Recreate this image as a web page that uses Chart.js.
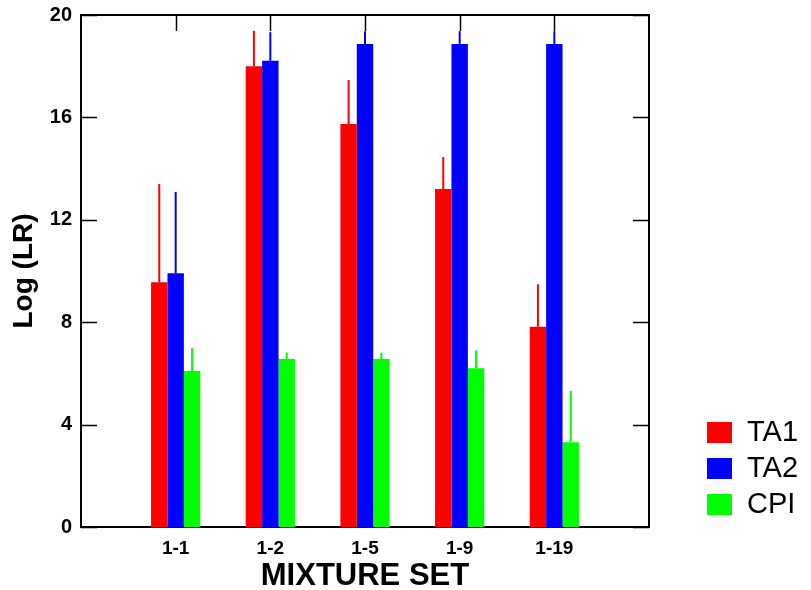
<!DOCTYPE html>
<html><head><meta charset="utf-8">
<script src="https://cdn.jsdelivr.net/npm/chart.js@4/dist/chart.umd.min.js"></script>
<style>html,body{margin:0;padding:0;background:#fff}#wrap{width:811px;height:590px;position:relative}</style>
</head><body><div id="wrap"><canvas id="c"></canvas></div>
<script>
const categories = ['1-1','1-2','1-5','1-9','1-19'];
const ta1 = [9.56, 18.0, 15.74, 13.2, 7.82];
const ta1Err = [3.84, 1.38, 1.72, 1.25, 1.66];
const ta2 = [9.91, 18.21, 18.87, 18.87, 18.87];
const ta2Err = [3.18, 1.12, 0.5, 0.5, 0.5];
const cpi = [6.09, 6.56, 6.56, 6.2, 3.31];
const cpiErr = [0.9, 0.26, 0.25, 0.7, 2.01];
const yTicks = [0, 4, 8, 12, 16, 20];
const seriesNames = ['TA1', 'TA2', 'CPI'];
const seriesColors = ['#ff0000', '#0000ff', '#00ff00'];

const pad = a => [null, ...a, null];
const labels = ['', ...categories, ''];

Chart.defaults.font.family = "'Liberation Sans', Arial, sans-serif";
Chart.defaults.color = '#000';

const frame = {
  id: 'frame',
  beforeDatasetsDraw(chart) {
    const {ctx, chartArea: a, scales: {x, y}} = chart;
    ctx.save();
    ctx.strokeStyle = '#000';
    ctx.lineWidth = 1.5;
    const L = 16;
    yTicks.forEach(v => {
      const py = Math.round(y.getPixelForValue(v)) + 0.5;
      ctx.beginPath();
      ctx.moveTo(a.left, py); ctx.lineTo(a.left + L, py);
      ctx.moveTo(a.right - L, py); ctx.lineTo(a.right, py);
      ctx.stroke();
    });
    categories.forEach((c, i) => {
      const px = Math.round(x.getPixelForValue(i + 1)) + 0.5;
      ctx.beginPath();
      ctx.moveTo(px, a.top); ctx.lineTo(px, a.top + L);
      ctx.stroke();
    });
    ctx.lineWidth = 2;
    ctx.strokeRect(a.left, a.top, a.right - a.left, a.bottom - a.top);
    ctx.restore();
  }
};

const errBars = {
  id: 'errBars',
  afterDatasetsDraw(chart) {
    const {ctx, scales: {y}} = chart;
    ctx.save();
    ctx.lineWidth = 2;
    chart.data.datasets.forEach((ds, i) => {
      const meta = chart.getDatasetMeta(i);
      meta.data.forEach((el, j) => {
        const v = ds.data[j];
        if (v == null) return;
        const e = ds.errors[j];
        const top = y.getPixelForValue(v + e);
        ctx.strokeStyle = ds.backgroundColor;
        ctx.beginPath();
        ctx.moveTo(el.x, el.y);
        ctx.lineTo(el.x, top);
        ctx.stroke();
      });
    });
    ctx.restore();
  }
};

const legendBox = {
  id: 'legendBox',
  afterDraw(chart) {
    const {ctx} = chart;
    ctx.save();
    ctx.font = "29px 'Liberation Sans', Arial, sans-serif";
    ctx.textBaseline = 'middle';
    ctx.textAlign = 'left';
    chart.data.datasets.forEach((ds, i) => {
      const top = 422 + i * 36;
      ctx.fillStyle = ds.backgroundColor;
      ctx.fillRect(707, top, 25, 21);
      ctx.fillStyle = '#000';
      ctx.fillText(ds.label, 747, top + 11);
    });
    ctx.restore();
  }
};

new Chart(document.getElementById('c'), {
  type: 'bar',
  data: {
    labels: labels,
    datasets: [
      {label: seriesNames[0], data: pad(ta1), errors: pad(ta1Err), backgroundColor: seriesColors[0]},
      {label: seriesNames[1], data: pad(ta2), errors: pad(ta2Err), backgroundColor: seriesColors[1]},
      {label: seriesNames[2], data: pad(cpi), errors: pad(cpiErr), backgroundColor: seriesColors[2]}
    ]
  },
  options: {
    responsive: true,
    maintainAspectRatio: false,
    animation: false,
    devicePixelRatio: 1,
    layout: {padding: {top: 15, right: 162, left: 0, bottom: 0}},
    datasets: {bar: {categoryPercentage: 0.52, barPercentage: 1.0, borderWidth: 0}},
    plugins: {legend: {display: false}, tooltip: {enabled: false}},
    scales: {
      x: {
        offset: false,
        grid: {display: false, drawTicks: false},
        border: {display: false},
        ticks: {font: {size: 19, weight: 'bold'}, padding: 10, maxRotation: 0, autoSkip: false},
        title: {display: true, text: 'MIXTURE SET', font: {size: 31, weight: 'bold', lineHeight: 0.85}, padding: {top: 4, bottom: 0}},
        afterFit(s) { s.height = 63; s.paddingLeft = 0; s.paddingRight = 0; }
      },
      y: {
        min: 0, max: 20,
        grid: {display: false, drawTicks: false},
        border: {display: false},
        afterBuildTicks(s) { s.ticks = yTicks.map(v => ({value: v})); },
        ticks: {font: {size: 20, weight: 'bold'}, padding: 9},
        title: {display: true, text: 'Log (LR)', font: {size: 28, weight: 'bold'}, padding: {top: 7, bottom: 0}},
        afterFit(s) { s.width = 81; s.paddingTop = 0; s.paddingBottom = 0; }
      }
    }
  },
  plugins: [frame, errBars, legendBox]
});
</script>
</body></html>
